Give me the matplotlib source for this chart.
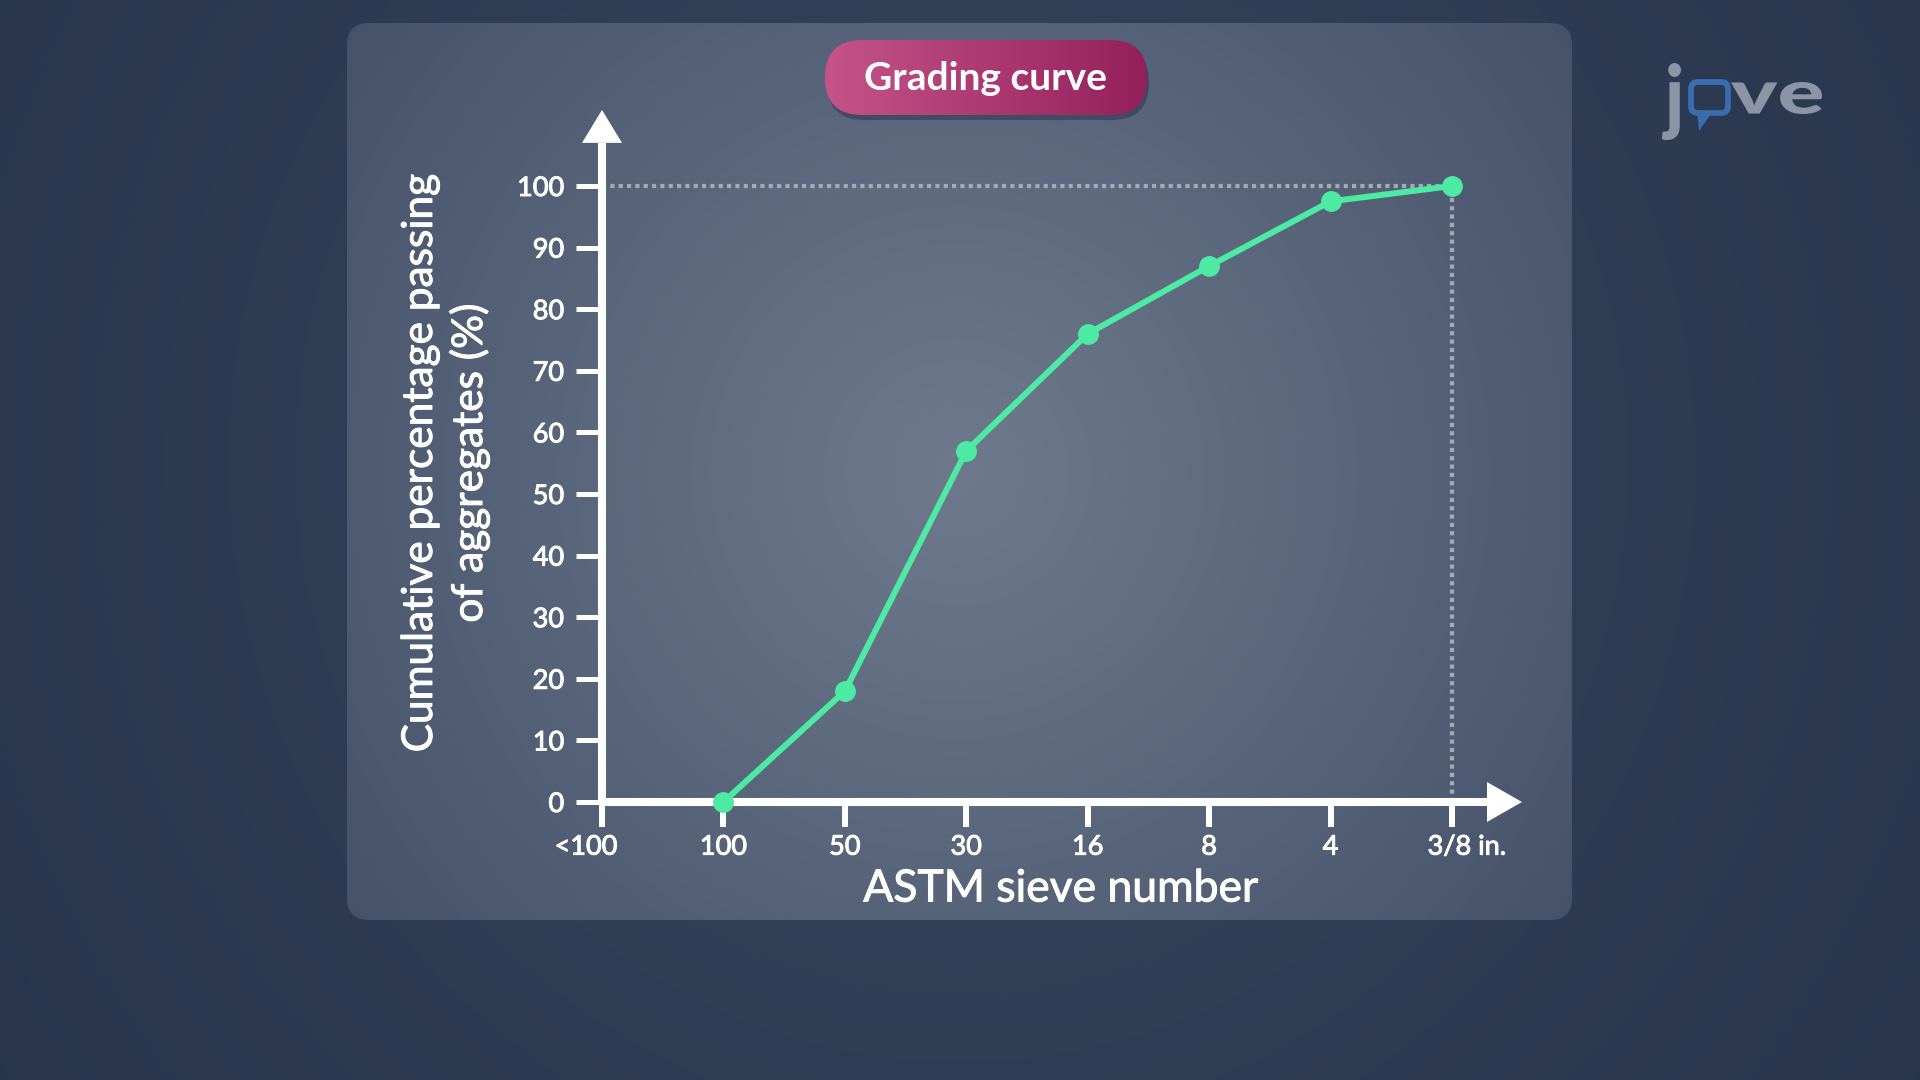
import numpy as np
import matplotlib
matplotlib.use("Agg")
import matplotlib.pyplot as plt
import matplotlib.patheffects as pe
from matplotlib.patches import FancyBboxPatch, Polygon, PathPatch
from matplotlib.transforms import ScaledTranslation, Affine2D
from matplotlib.textpath import TextPath
from matplotlib.font_manager import FontProperties
from matplotlib.colors import to_rgb

plt.rcParams['font.family'] = ['Lato', 'DejaVu Sans']

# ---------------- data ----------------
sieve_labels = ["<100", "100", "50", "30", "16", "8", "4", "3/8 in."]
sieve_pos = list(range(len(sieve_labels)))
curve_sieves = ["100", "50", "30", "16", "8", "4", "3/8 in."]
percent_passing = [0, 18, 57, 76, 87, 97.5, 100]
y_ticks = [0, 10, 20, 30, 40, 50, 60, 70, 80, 90, 100]
title_text = "Grading curve"
x_label = "ASTM sieve number"
y_label = "Cumulative percentage passing\nof aggregates (%)"

W, H = 1920, 1080
fig = plt.figure(figsize=(W / 100, H / 100), dpi=100)
heavier = [pe.withStroke(linewidth=0.7, foreground="white")]


def radial(w, h, cx, cy, r, c_in, c_out):
    X, Y = np.meshgrid(np.arange(w), np.arange(h))
    d = np.clip(np.sqrt((X - cx) ** 2 + (Y - cy) ** 2) / r, 0, 1)[..., None]
    a = np.array(to_rgb(c_in)); b = np.array(to_rgb(c_out))
    return a * (1 - d) + b * d


# ---------------- background ----------------
bg = fig.add_axes([0, 0, 1, 1])
bg.set_xlim(0, W); bg.set_ylim(H, 0); bg.axis("off")
bg.imshow(radial(W // 4, H // 4, 240, 115, 300, "#38465f", "#27344c"),
          extent=(0, W, H, 0), aspect="auto", interpolation="bilinear", zorder=0)

# panel
px0, py0, pw, ph = 347, 23, 1225, 897
panel = FancyBboxPatch((px0, py0), pw, ph, boxstyle="round,pad=0,rounding_size=22",
                       facecolor="none", edgecolor="none", zorder=1)
bg.add_patch(panel)
pimg = bg.imshow(radial(pw // 4, ph // 4, (955 - px0) / 4, (470 - py0) / 4, 190,
                        "#6e7a8c", "#46526a"),
                 extent=(px0, px0 + pw, py0 + ph, py0), aspect="auto",
                 interpolation="bilinear", zorder=1)
pimg.set_clip_path(panel)

# title pill
tx0, ty0, tw, th = 825, 40, 322, 75
shadow = FancyBboxPatch((tx0 + 2, ty0 + 5), tw, th, boxstyle="round,pad=0,rounding_size=37",
                        facecolor="#2e3550", edgecolor="none", alpha=0.55, zorder=2)
bg.add_patch(shadow)
pill = FancyBboxPatch((tx0, ty0), tw, th, boxstyle="round,pad=0,rounding_size=37",
                      facecolor="none", edgecolor="none", zorder=3)
bg.add_patch(pill)
g = np.linspace(0, 1, 200)[None, :, None]
c1 = np.array(to_rgb("#c5548a")); c2 = np.array(to_rgb("#93205b"))
grad = np.repeat(c1 * (1 - g) + c2 * g, 4, axis=0)
timg = bg.imshow(grad, extent=(tx0, tx0 + tw, ty0 + th, ty0), aspect="auto",
                 interpolation="bilinear", zorder=3)
timg.set_clip_path(pill)
bg.text(tx0 + tw / 2, ty0 + th / 2 + 1, title_text, ha="center", va="center",
        fontsize=28, fontweight="bold", color="white", zorder=4)

# logo (text paths fitted into boxes)
logo_col = "#8c95a6"
fp_logo = FontProperties(family="Lato", weight="black")


def fitted_text(s, x0, x1, y0, y1, color):
    tp = TextPath((0, 0), s, size=100, prop=fp_logo)
    ext = tp.get_extents()
    tr = (Affine2D().translate(-ext.x0, -ext.y0)
          .scale((x1 - x0) / ext.width, -(y1 - y0) / ext.height)
          .translate(x0, y1))
    bg.add_patch(PathPatch(tr.transform_path(tp), facecolor=color,
                           edgecolor="none", zorder=4))


fitted_text("j", 1662, 1681, 63, 140, logo_col)
fitted_text("ve", 1731, 1822, 82, 114, logo_col)
bubble = FancyBboxPatch((1691, 82), 37, 31, boxstyle="round,pad=0,rounding_size=7",
                        facecolor="none", edgecolor="#3a6cb0", linewidth=4.2, zorder=4)
bg.add_patch(bubble)
bg.add_patch(Polygon([[1697, 111], [1713, 111], [1699, 131]], closed=True,
                     facecolor="#3a6cb0", edgecolor="none", zorder=4))

# ---------------- main axes ----------------
ax_l, ax_r, ax_b, ax_t = 602, 1452, 802, 186
ax = fig.add_axes([ax_l / W, (H - ax_b) / H, (ax_r - ax_l) / W, (ax_b - ax_t) / H])
ax.set_facecolor("none")
ax.set_xlim(0, 7)
ax.set_ylim(0, 100)
for s in ax.spines.values():
    s.set_visible(False)

xu = (ax_r - ax_l) / 7.0
yu = (ax_b - ax_t) / 100.0

# dotted guide lines
last_x = sieve_labels.index(curve_sieves[-1])
ax.plot([0, last_x], [percent_passing[-1]] * 2, color="#a3abb9", lw=3,
        linestyle=(0, (1, 1)), dash_capstyle="butt", zorder=2, clip_on=False)
ax.plot([last_x] * 2, [0, percent_passing[-1]], color="#a3abb9", lw=3,
        linestyle=(0, (1, 1)), dash_capstyle="butt", zorder=2, clip_on=False)

# axes lines with arrows
white = "white"
y_base = 107.0; y_tip = y_base + 33 / yu
x_base = 7 + 35 / xu; x_tip = x_base + 35 / xu
ax.plot([0, 0], [0, y_base], color=white, lw=5.8, solid_capstyle="butt",
        zorder=3, clip_on=False)
ax.plot([0, x_base], [0, 0], color=white, lw=5.8, solid_capstyle="butt",
        zorder=3, clip_on=False)
hw = 20
ax.add_patch(Polygon([[-hw / xu, y_base], [hw / xu, y_base], [0, y_tip]], closed=True,
                     facecolor=white, edgecolor="none", zorder=3, clip_on=False))
ax.add_patch(Polygon([[x_base, -hw / yu], [x_base, hw / yu], [x_tip, 0]], closed=True,
                     facecolor=white, edgecolor="none", zorder=3, clip_on=False))

# ticks
ax.set_xticks(sieve_pos)
ax.set_xticklabels(sieve_labels)
ax.set_yticks(y_ticks)
ax.set_yticklabels([str(v) for v in y_ticks])
ax.tick_params(axis="x", length=18, width=4.3, color=white, pad=5.5,
               labelsize=19.5, labelcolor=white)
ax.tick_params(axis="y", length=18.7, width=3.6, color=white, pad=8.5,
               labelsize=19.5, labelcolor=white)
xt = ax.xaxis.get_major_ticks()
xt[0].label1.set_transform(xt[0].label1.get_transform() +
                           ScaledTranslation(-0.16, 0, fig.dpi_scale_trans))
xt[-1].label1.set_transform(xt[-1].label1.get_transform() +
                            ScaledTranslation(0.15, 0, fig.dpi_scale_trans))
for t in ax.get_xticklabels() + ax.get_yticklabels():
    t.set_path_effects(heavier)

# curve
cx = [sieve_labels.index(s) for s in curve_sieves]
ax.plot(cx, percent_passing, color="#4deaa4", lw=4.3, marker="o",
        markersize=14, zorder=5, clip_on=False)

# labels
ax.set_xlabel(x_label, fontsize=32, color=white)
ax.xaxis.label.set(va="center", path_effects=heavier)
ax.xaxis.set_label_coords((1061 - ax_l) / (ax_r - ax_l), (ax_b - 889) / (ax_b - ax_t))
ax.set_ylabel(y_label, fontsize=30.5, color=white, linespacing=1.3)
ax.yaxis.label.set(va="center", ha="center", rotation_mode="anchor",
                   multialignment="center", path_effects=heavier)
ax.yaxis.set_label_coords((445 - ax_l) / (ax_r - ax_l), (ax_b - 463) / (ax_b - ax_t))

fig.savefig("out.png", dpi=100)
